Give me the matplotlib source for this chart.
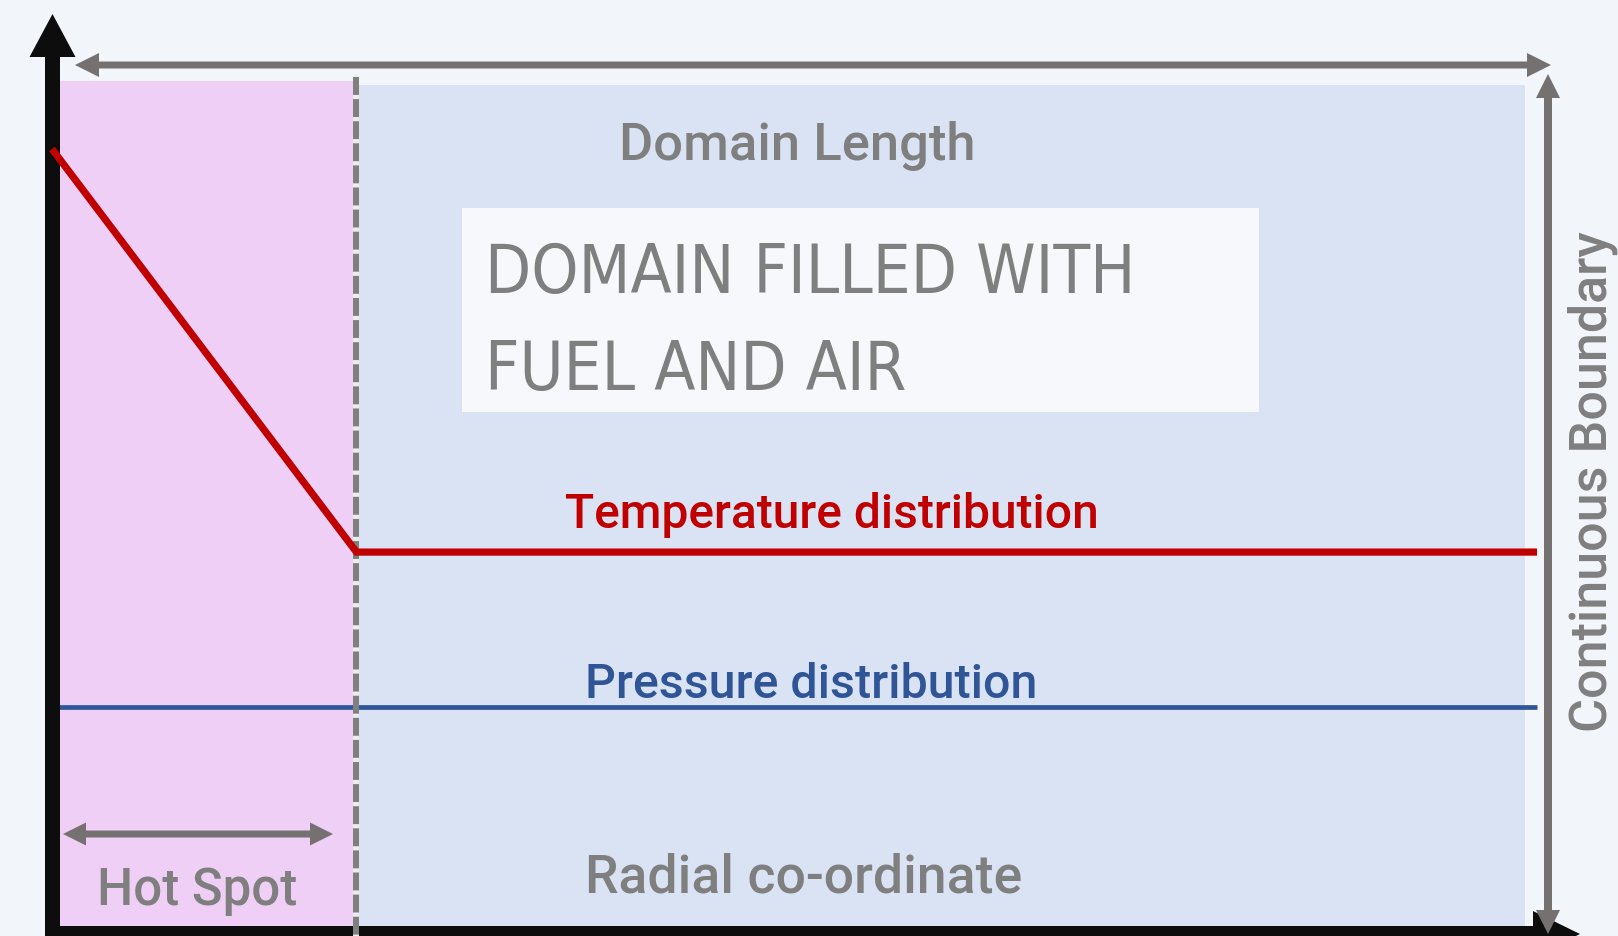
import matplotlib
matplotlib.use("Agg")
import numpy as np
import matplotlib.pyplot as plt
from matplotlib import font_manager, transforms as mtransforms
from matplotlib.patches import Rectangle, Polygon

# ---------------- data ----------------
radial_coord = [0.0, 0.205, 1.0]          # normalised radial co-ordinate
temperature = [0.852, 0.410, 0.410]       # normalised temperature
pressure_coord = [0.0, 1.0]
pressure = [0.240, 0.240]                 # normalised pressure
hot_spot_end = 0.205

label_domain_length = "Domain Length"
label_box = ["DOMAIN FILLED WITH", "FUEL AND AIR"]
label_temp = "Temperature distribution"
label_press = "Pressure distribution"
label_radial = "Radial co-ordinate"
label_hot = "Hot Spot"
label_boundary = "Continuous Boundary"

# ---------------- fonts ----------------
def available(name):
    try:
        font_manager.findfont(font_manager.FontProperties(family=name),
                              fallback_to_default=False)
        return True
    except Exception:
        return False

main_family = next((f for f in ["Roboto", "Noto Sans", "DejaVu Sans"] if available(f)), "DejaVu Sans")

narrow_fp = None
for f in font_manager.fontManager.ttflist:
    fn = f.fname.lower()
    if ("condensed" in fn or "narrow" in fn) and "bold" not in fn and "italic" not in fn \
            and "light" not in fn and "thin" not in fn and "black" not in fn and "semi" not in fn \
            and "extra" not in fn and "medium" not in fn and "oblique" not in fn:
        narrow_fp = font_manager.FontProperties(fname=f.fname)
        break
if narrow_fp is None:
    narrow_fp = font_manager.FontProperties(family=main_family)

# ---------------- figure ----------------
W, H = 1618, 937
fig = plt.figure(figsize=(W / 100, H / 100), dpi=100)
fig.patch.set_facecolor("#F2F5FA")
ax = fig.add_axes([0, 0, 1, 1])
ax.set_xlim(0, W)
ax.set_ylim(H, 0)
ax.axis("off")

# data -> pixel mapping
X0, XS, Y0, YS = 52, 1485, 927, 912
data_tr = mtransforms.Affine2D().scale(XS, -YS).translate(X0, Y0) + ax.transData
hs_px = X0 + hot_spot_end * XS

GRAY = "#7F7F7F"
ARROW = "#767171"


def arrow(p0, p1, w, hw, hl, color, both=False, z=5):
    p0 = np.array(p0, float); p1 = np.array(p1, float)
    d = p1 - p0; u = d / np.hypot(*d); n = np.array([-u[1], u[0]])
    pts = []
    if both:
        b0 = p0 + u * hl
        pts += [p0, b0 + n * hw / 2, b0 + n * w / 2]
    else:
        pts += [p0 + n * w / 2]
    b1 = p1 - u * hl
    pts += [b1 + n * w / 2, b1 + n * hw / 2, p1, b1 - n * hw / 2, b1 - n * w / 2]
    if both:
        pts += [b0 - n * w / 2, b0 - n * hw / 2]
    else:
        pts += [p0 - n * w / 2]
    ax.add_patch(Polygon(pts, closed=True, facecolor=color, edgecolor="none", zorder=z))


# regions
ax.add_patch(Rectangle((60, 86), 1525 - 60, 927 - 86, facecolor="#DAE3F3", edgecolor="none", zorder=1))
ax.add_patch(Rectangle((60, 82), hs_px - 60, 927 - 82, facecolor="#F0CFF7", edgecolor="none", zorder=1.1))
ax.add_patch(Rectangle((462, 209), 1259 - 462, 413 - 209, facecolor="#F6F8FC", edgecolor="none", zorder=2))

# profiles
ax.plot(pressure_coord, pressure, color="#2F5597", lw=3.4, transform=data_tr, zorder=3,
        solid_capstyle="butt")
ax.plot(radial_coord, temperature, color="#C00000", lw=5.2, transform=data_tr, zorder=6,
        solid_capstyle="butt", solid_joinstyle="miter")

# axes arrows
arrow((52.5, 945), (52.5, 15), 15, 46, 43, "#0D0D0D", z=4)
arrow((45, 935), (1580, 935), 16, 46, 47, "#0D0D0D", z=4)

# dashed hot-spot boundary
ax.plot([hs_px, hs_px], [78, 937], color="#EDEDED", lw=4.3, zorder=5)
ax.plot([hs_px, hs_px], [78, 937], color=GRAY, lw=4.3, ls=(0, (3, 0.7)), zorder=5.1)

# gray dimension arrows
arrow((75, 66), (1551, 66), 7, 24, 24, ARROW, both=True, z=7)
arrow((1548, 75), (1548, 935), 8, 24, 24, ARROW, both=True, z=7)
arrow((63, 835), (333, 835), 7, 23, 23, ARROW, both=True, z=7)

# ---------------- texts ----------------
texts = []

def add_text(s, x, y, color, target, ha="center", rot=0, fp=None, **kw):
    if fp is None:
        t = ax.text(x, y, s, color=color, ha=ha, va="baseline", family=main_family,
                    fontweight="medium", fontsize=30, rotation=rot,
                    rotation_mode="anchor", zorder=8, **kw)
    else:
        t = ax.text(x, y, s, color=color, ha=ha, va="baseline", fontproperties=fp.copy(),
                    rotation=rot, rotation_mode="anchor", zorder=8, **kw)
        t.set_fontsize(30)
    texts.append((t, target, rot))
    return t

add_text(label_domain_length, 797, 160, GRAY, 356)
add_text(label_temp, 832, 528, "#C00000", 534)
add_text(label_press, 811, 698, "#2F5597", 453)
add_text(label_radial, 804, 893, GRAY, 437)
add_text(label_hot, 197, 905, GRAY, 200)
add_text(label_boundary, 1607, 482, GRAY, 500, rot=90)
b1 = add_text(label_box[0], 485, 293, GRAY, 650, ha="left", fp=narrow_fp)
b2 = add_text(label_box[1], 485, 390, GRAY, None, ha="left", fp=narrow_fp)

fig.canvas.draw()
r = fig.canvas.get_renderer()
for _ in range(2):
    for t, target, rot in texts:
        if target is None:
            continue
        bb = t.get_window_extent(r)
        size = bb.height if rot == 90 else bb.width
        t.set_fontsize(t.get_fontsize() * target / size)
    fig.canvas.draw()
b2.set_fontsize(b1.get_fontsize())

fig.savefig("out.png", dpi=100, facecolor=fig.get_facecolor())
